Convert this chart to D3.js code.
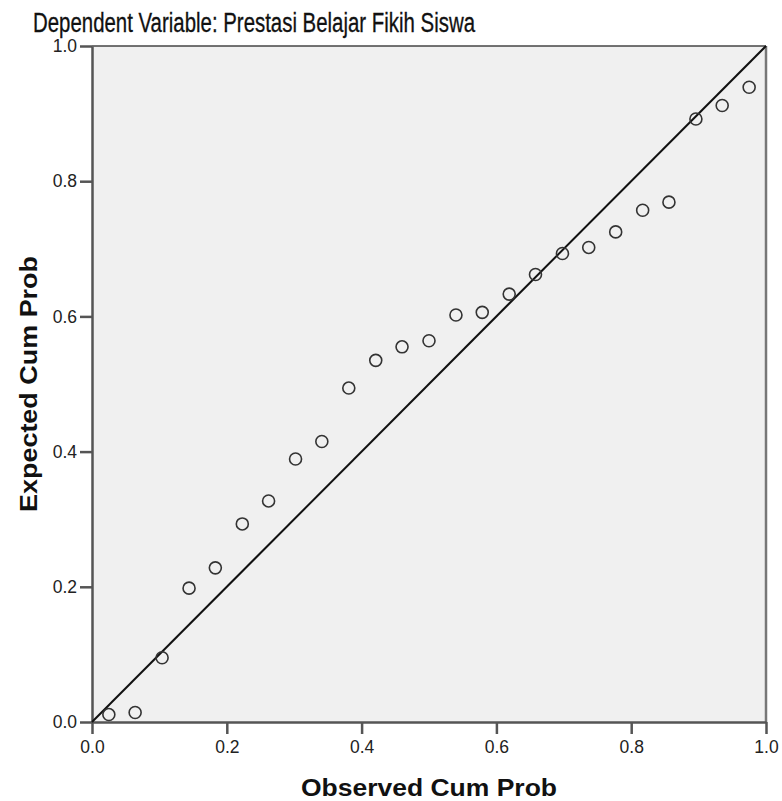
<!DOCTYPE html>
<html>
<head>
<meta charset="utf-8">
<script src="https://cdn.jsdelivr.net/npm/d3@7"></script>
<style>
  body { margin: 0; background: #fff; }
  text { font-family: "Liberation Sans", Arial, sans-serif; }
</style>
</head>
<body>
<script>
// observed / expected cumulative probabilities
var observed = [0.025, 0.064, 0.104, 0.144, 0.183, 0.223, 0.262, 0.302, 0.341, 0.381,
                0.421, 0.460, 0.500, 0.540, 0.579, 0.619, 0.658, 0.698, 0.737, 0.777,
                0.817, 0.856, 0.896, 0.935, 0.975];
var expected = [0.011, 0.014, 0.095, 0.198, 0.228, 0.293, 0.327, 0.389, 0.415, 0.494,
                0.535, 0.555, 0.564, 0.602, 0.606, 0.633, 0.662, 0.693, 0.702, 0.725,
                0.757, 0.769, 0.892, 0.912, 0.939];
var ticks = [0, 0.2, 0.4, 0.6, 0.8, 1.0];
var title = "Dependent Variable: Prestasi Belajar Fikih Siswa";
var xTitle = "Observed Cum Prob";
var yTitle = "Expected Cum Prob";

var W = 782, H = 801;
var mLeft = 92, mRight = 766, mTop = 46, mBottom = 722;

var svg = d3.select("body").append("svg")
            .attr("width", W)
            .attr("height", H);

var x = d3.scaleLinear().domain([0, 1]).range([mLeft, mRight]);
var y = d3.scaleLinear().domain([0, 1]).range([mBottom, mTop]);

// plot background
svg.append("rect")
   .attr("x", mLeft).attr("y", mTop)
   .attr("width", mRight - mLeft).attr("height", mBottom - mTop)
   .attr("fill", "#f0f0f0");

// top and right border
svg.append("line").attr("x1", mLeft).attr("x2", mRight).attr("y1", mTop).attr("y2", mTop)
   .attr("stroke", "#444").attr("stroke-width", 1.5);
svg.append("line").attr("x1", mRight).attr("x2", mRight).attr("y1", mTop).attr("y2", mBottom)
   .attr("stroke", "#777").attr("stroke-width", 2.5);

// axes
var xAxis = d3.axisBottom(x).tickValues(ticks).tickFormat(d3.format(".1f")).tickSize(12).tickSizeOuter(0);
var yAxis = d3.axisLeft(y).tickValues(ticks).tickFormat(d3.format(".1f")).tickSize(12).tickSizeOuter(0);

var gx = svg.append("g").attr("transform", "translate(0," + mBottom + ")").call(xAxis);
var gy = svg.append("g").attr("transform", "translate(" + mLeft + ",0)").call(yAxis);

[gx, gy].forEach(function(g){
  g.select(".domain").attr("stroke", "#555").attr("stroke-width", 2.5);
  g.selectAll(".tick line").attr("stroke", "#555").attr("stroke-width", 2.5);
  g.selectAll(".tick text")
   .attr("fill", "#222")
   .style("font-family", "'Liberation Sans', Arial, sans-serif")
   .style("font-size", "17.5px");
});
gx.selectAll(".tick text").attr("dy", 0).attr("y", 31);
gy.selectAll(".tick text").attr("x", -15);

// reference line
svg.append("line")
   .attr("x1", x(0)).attr("y1", y(0))
   .attr("x2", x(1)).attr("y2", y(1))
   .attr("stroke", "#111").attr("stroke-width", 2);

// points
svg.selectAll("circle.pt")
   .data(observed)
   .enter()
   .append("circle")
   .attr("class", "pt")
   .attr("cx", function(d){ return x(d); })
   .attr("cy", function(d, i){ return y(expected[i]); })
   .attr("r", 6)
   .attr("fill", "none")
   .attr("stroke", "#333")
   .attr("stroke-width", 1.6);

// title
svg.append("text")
   .attr("x", 33).attr("y", 32)
   .attr("textLength", 442).attr("lengthAdjust", "spacingAndGlyphs")
   .style("font-size", "27px")
   .attr("fill", "#111").attr("stroke", "#111").attr("stroke-width", 0.3)
   .text(title);

// axis titles
svg.append("text")
   .attr("x", (mLeft + mRight) / 2).attr("y", 796)
   .attr("text-anchor", "middle")
   .attr("textLength", 256).attr("lengthAdjust", "spacingAndGlyphs")
   .style("font-size", "23px").style("font-weight", "bold")
   .attr("fill", "#111")
   .text(xTitle);

svg.append("text")
   .attr("transform", "translate(37," + ((mTop + mBottom) / 2) + ") rotate(-90)")
   .attr("text-anchor", "middle")
   .attr("textLength", 256).attr("lengthAdjust", "spacingAndGlyphs")
   .style("font-size", "23px").style("font-weight", "bold")
   .attr("fill", "#111")
   .text(yTitle);
</script>
</body>
</html>
